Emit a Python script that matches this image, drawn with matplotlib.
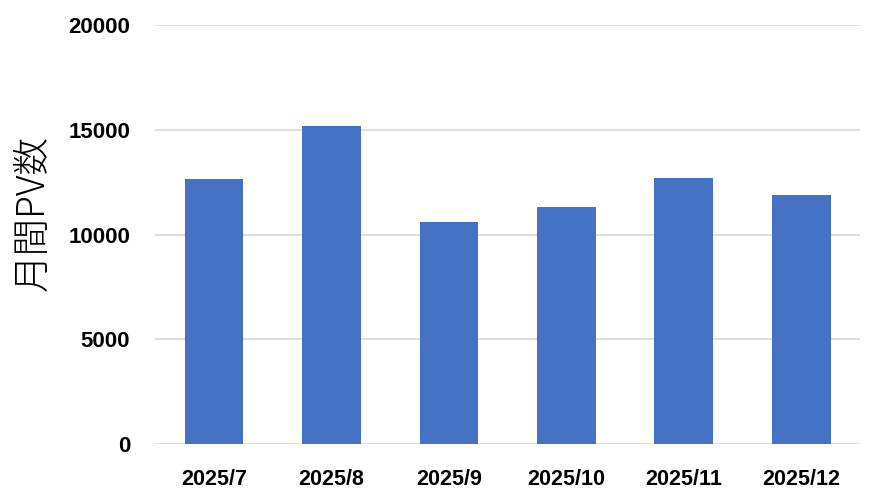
import matplotlib
matplotlib.use('Agg')
import matplotlib.pyplot as plt

months = ['2025/7', '2025/8', '2025/9', '2025/10', '2025/11', '2025/12']
pv = [12640, 15190, 10610, 11310, 12690, 11900]
yticks = [0, 5000, 10000, 15000, 20000]

tick_font = ['Liberation Sans', 'DejaVu Sans']

fig = plt.figure(figsize=(8.82, 5.04), dpi=100)
ax = fig.add_axes([0.176, 0.119, 0.799, 0.831])

x = range(len(months))
ax.bar(x, pv, width=0.5, color='#4472C4', zorder=3)

ax.set_xlim(-0.5, len(months) - 0.5)
ax.set_ylim(0, 20000)
ax.set_yticks(yticks)
ax.set_xticks(list(x))
ax.set_xticklabels(months, family=tick_font, fontsize=15.5, fontweight='bold')
ax.set_yticklabels([str(v) for v in yticks], family=tick_font, fontsize=16, fontweight='bold')

ax.grid(axis='y', color='#d9d9d9', linewidth=1.2, zorder=0)
for s in ax.spines.values():
    s.set_visible(False)
ax.tick_params(axis='both', length=0)
ax.tick_params(axis='y', pad=18)
ax.tick_params(axis='x', pad=18)

fig.text(33 / 882, 291 / 504, '月間PV数', family=['Noto Sans CJK JP', 'DejaVu Sans'],
         fontsize=27, fontweight='light', rotation=90, ha='center', va='center')

fig.savefig('out.png', dpi=100)
